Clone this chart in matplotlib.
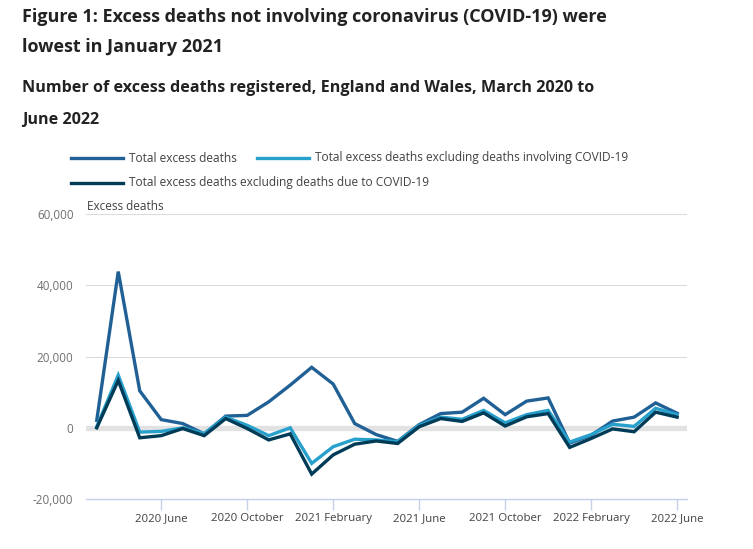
import matplotlib
matplotlib.use("Agg")
import matplotlib.pyplot as plt
from matplotlib.lines import Line2D

plt.rcParams['font.family'] = ['Open Sans', 'DejaVu Sans']

months = list(range(28))  # March 2020 .. June 2022
tick_pos = [3, 7, 11, 15, 19, 23, 27]
tick_labels = ["2020 June", "2020 October", "2021 February", "2021 June",
               "2021 October", "2022 February", "2022 June"]

total = [2100, 43900, 10400, 2300, 1200, -1700, 3300, 3500, 7300, 12000,
         17000, 12300, 1200, -1900, -3800, 900, 4000, 4400, 8300, 3700,
         7500, 8400, -4300, -2100, 1900, 3000, 7000, 4100]
excl_involving = [300, 14800, -1200, -1000, 0, -1600, 3000, 700, -2200, 0,
                  -10000, -5300, -3200, -3400, -3900, 700, 3000, 2400, 4900, 1400,
                  3700, 4900, -4000, -1900, 1000, 400, 5500, 3700]
excl_due = [0, 13300, -2800, -2200, -200, -2200, 2600, -200, -3400, -1700,
            -13000, -7600, -4600, -3700, -4400, 300, 2600, 1800, 4200, 500,
            3100, 4000, -5500, -3000, -300, -1100, 4400, 3000]

series_names = ["Total excess deaths",
                "Total excess deaths excluding deaths involving COVID-19",
                "Total excess deaths excluding deaths due to COVID-19"]
colors = ["#206095", "#27a0cc", "#003c57"]

W, H = 753, 549
fig = plt.figure(figsize=(W / 100, H / 100), dpi=100)

def fx(px):
    return px / W

def fy(py):
    return 1 - py / H

ax = fig.add_axes([fx(86), fy(499), fx(687) - fx(86), fy(214.3) - fy(499)])

ax.set_xlim(-0.5, 27.46)
ax.set_ylim(-20000, 60000)

for v in [20000, 40000, 60000]:
    ax.axhline(v, color="#dcdcdc", lw=0.8, zorder=1)
ax.axhline(0, color="#e2e2e2", lw=3.8, zorder=1)

for vals, c in zip([total, excl_involving, excl_due], colors):
    ax.plot(months, vals, color=c, lw=2.4, solid_joinstyle="miter", zorder=3)

for s in ["top", "right", "left"]:
    ax.spines[s].set_visible(False)
ax.spines["bottom"].set_color("#c5d1e6")
ax.spines["bottom"].set_linewidth(1.0)

ax.set_xticks(tick_pos)
ax.set_xticklabels(tick_labels)
ax.tick_params(axis="x", length=8, width=1, color="#c5d1e6", labelsize=8.2,
               labelcolor="#414042", pad=2)
ax.set_yticks([-20000, 0, 20000, 40000, 60000])
ax.set_yticklabels(["-20,000", "0", "20,000", "40,000", "60,000"])
ax.tick_params(axis="y", length=0, labelsize=8.4, labelcolor="#707071", pad=9)

# Titles
fig.text(fx(22), fy(17), "Figure 1: Excess deaths not involving coronavirus (COVID-19) were",
         fontsize=12.95, fontweight="bold", color="#222222", va="center", ha="left")
fig.text(fx(22), fy(47), "lowest in January 2021",
         fontsize=12.95, fontweight="bold", color="#222222", va="center", ha="left")
fig.text(fx(22), fy(88), "Number of excess deaths registered, England and Wales, March 2020 to",
         fontsize=11.6, fontweight="bold", color="#222222", va="center", ha="left")
fig.text(fx(22), fy(120), "June 2022",
         fontsize=11.6, fontweight="bold", color="#222222", va="center", ha="left")

fig.text(fx(87), fy(207), "Excess deaths", fontsize=8.5, color="#414042",
         va="center", ha="left")

# Legend (manual layout)
legend_items = [(71, 158, 0), (257, 158, 1), (71, 183, 2)]
for x0, y0, i in legend_items:
    fig.add_artist(Line2D([fx(x0), fx(x0 + 52)], [fy(y0), fy(y0)],
                          color=colors[i], lw=2.4, transform=fig.transFigure))
    fig.text(fx(x0 + 58), fy(y0), series_names[i], fontsize=8.6, color="#414042",
             va="center", ha="left")

fig.savefig("out.png", dpi=100)
